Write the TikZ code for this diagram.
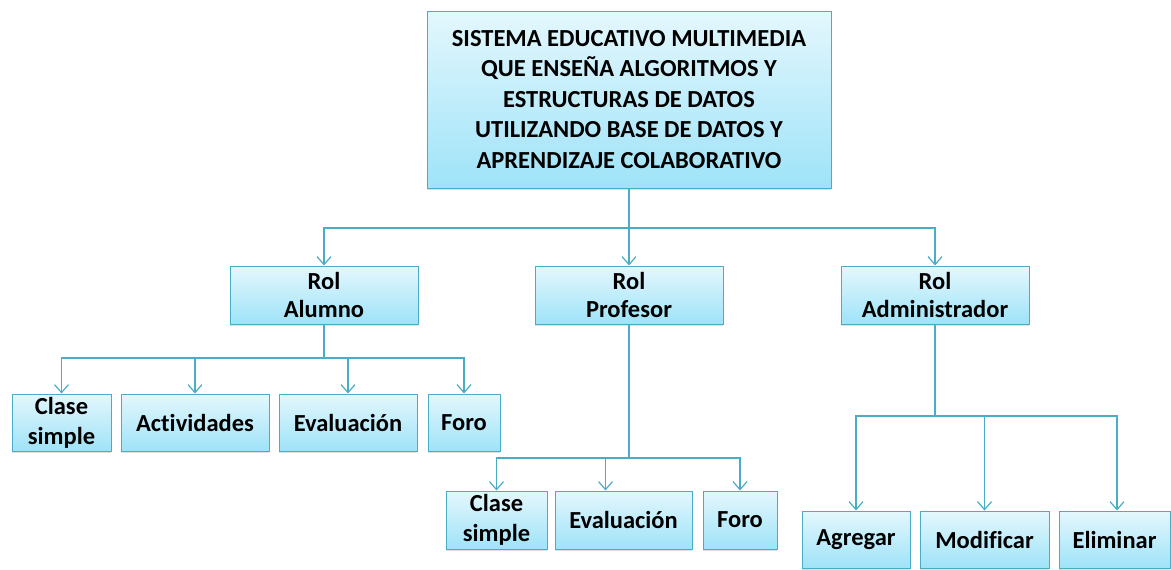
\documentclass[tikz,border=0pt]{standalone}
\usepackage{fontspec}
\setmainfont[Ligatures={NoCommon}]{Carlito}
\usetikzlibrary{arrows.meta,shadows}
\definecolor{edge}{HTML}{4BACC6}
\definecolor{topc}{HTML}{E4F7FD}
\definecolor{botc}{HTML}{9EE3F8}
\tikzset{
  box/.style={draw=edge, line width=1pt, top color=topc, bottom color=botc,
    align=center, inner sep=0pt, font=\bfseries\fontsize{24.5}{30}\selectfont,
    drop shadow={opacity=0.25, shadow xshift=0pt, shadow yshift=-2pt}},
  rolebox/.style={box, minimum width=188pt, minimum height=58pt, font=\bfseries\fontsize{24.5}{28}\selectfont},
  conn/.style={draw=edge, line width=1.3pt},
  arr/.style={conn, -{Straight Barb[length=8pt,width=14pt,line width=1.2pt]}}
}
\begin{document}
\begin{tikzpicture}[x=1pt,y=-1pt]
\useasboundingbox (0,0) rectangle (1171,570);
% top
\node[box, minimum width=404pt, minimum height=177pt, font=\bfseries\fontsize{24.5}{30.5}\selectfont] (top) at (629,99.5)
  {SISTEMA EDUCATIVO MULTIMEDIA\\QUE ENSEÑA ALGORITMOS Y\\ESTRUCTURAS DE DATOS\\UTILIZANDO BASE DE DATOS Y\\APRENDIZAJE COLABORATIVO};
% roles
\node[rolebox] (al) at (324,295) {Rol\\Alumno};
\node[rolebox] (pr) at (629,295) {Rol\\Profesor};
\node[rolebox] (ad) at (935,295) {Rol\\Administrador};
% alumno children
\node[box, minimum width=99pt, minimum height=57pt] (a1) at (61.5,422.5) {Clase\\simple};
\node[box, minimum width=148pt, minimum height=57pt] (a2) at (195,422.5) {Actividades};
\node[box, minimum width=138pt, minimum height=57pt] (a3) at (348,422.5) {Evaluación};
\node[box, minimum width=72pt, minimum height=57pt] (a4) at (464,422.5) {Foro};
% profesor children
\node[box, minimum width=101pt, minimum height=58pt] (p1) at (496.5,520) {Clase\\simple};
\node[box, minimum width=137pt, minimum height=58pt] (p2) at (623.5,520) {Evaluación};
\node[box, minimum width=74pt, minimum height=58pt] (p3) at (740,520) {Foro};
% admin children
\node[box, minimum width=108pt, minimum height=57pt] (d1) at (856,539.5) {Agregar};
\node[box, minimum width=129pt, minimum height=57pt] (d2) at (984.5,539.5) {Modificar};
\node[box, minimum width=111pt, minimum height=57pt] (d3) at (1114.5,539.5) {Eliminar};
% connectors top
\coordinate (j0) at (629,228);
\draw[conn] (top.south) -- (j0);
\draw[arr] (j0) -| (al.north);
\draw[arr] (j0) -- (pr.north);
\draw[arr] (j0) -| (ad.north);
% alumno
\coordinate (j1) at (324,358);
\draw[conn] (al.south) -- (j1);
\draw[arr] (j1) -| (a1.north);
\draw[arr] (j1) -| (a2.north);
\draw[arr] (j1) -| (a3.north);
\draw[arr] (j1) -| (a4.north);
% profesor
\coordinate (j2) at (629,458);
\draw[conn] (pr.south) -- (j2);
\draw[arr] (j2) -| (p1.north);
\draw[arr] (j2) -| ([xshift=-18pt]p2.north);
\draw[arr] (j2) -| (p3.north);
% admin
\coordinate (j3) at (935,416);
\draw[conn] (ad.south) -- (j3);
\draw[arr] (j3) -| (d1.north);
\draw[arr] (j3) -| (d2.north);
\draw[arr] (j3) -| ([xshift=2.5pt]d3.north);
\end{tikzpicture}
\end{document}
